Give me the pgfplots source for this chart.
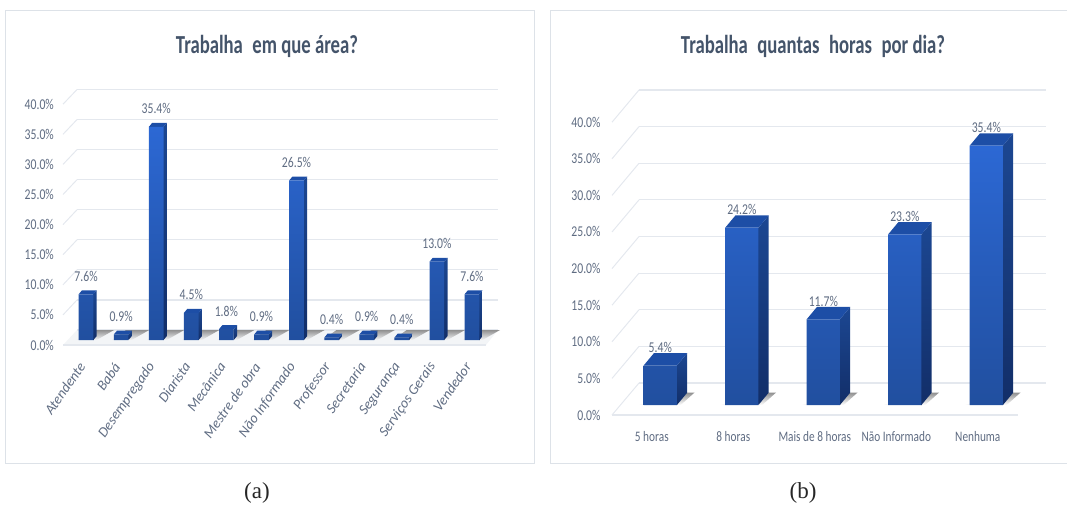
\documentclass[border=0pt]{standalone}
\usepackage{fontspec}
\usepackage{pgfplots}
\pgfplotsset{compat=1.18}
\setmainfont{Carlito}
\newfontfamily\narrowf[FakeStretch=0.78]{Carlito}
\newfontfamily\titlef[FakeStretch=0.72]{Carlito}
\newfontfamily\capf{Liberation Serif}
\definecolor{gridc}{HTML}{E4E8EE}
\definecolor{framec}{HTML}{DDE2E8}
\definecolor{txt}{HTML}{5F6C82}
\definecolor{titlec}{HTML}{44546A}
\definecolor{ftop}{HTML}{2C68D4}
\definecolor{fbot}{HTML}{214F9F}
\definecolor{stop}{HTML}{1C4792}
\definecolor{sbot}{HTML}{122E68}
\definecolor{ttop}{HTML}{1D4EA6}
\definecolor{shd}{HTML}{909090}
% 3D parts of a bar: #1 position, #2 value, #3 half width, #4 depth x, #5 depth y
\newcommand\tdbar[5]{%
  \pgfmathsetmacro\xl{#1-#3}\pgfmathsetmacro\xr{#1+#3}%
  \pgfmathsetmacro\xbl{#1-#3+#4}\pgfmathsetmacro\xbr{#1+#3+#4}%
  \pgfmathsetmacro\ytop{#2+#5}%
  \edef\temp{\noexpand\addplot[draw=none,shade,top color=stop,bottom color=sbot] coordinates {(\xr,0) (\xbr,#5) (\xbr,\ytop) (\xr,#2)} --cycle;
  \noexpand\addplot[draw=none,fill=ttop] coordinates {(\xl,#2) (\xr,#2) (\xbr,\ytop) (\xbl,\ytop)} --cycle;}\temp}
\newcommand\shadA[1]{%
  \pgfmathsetmacro\xl{#1-.26}\pgfmathsetmacro\xr{#1+.30}%
  \pgfmathsetmacro\xbl{#1+.14}\pgfmathsetmacro\xbr{#1+.80}%
  \edef\temp{\noexpand\addplot[draw=none,shade,top color=shd,bottom color=gridc!40] coordinates {(\xl,0) (\xr,0) (\xbr,1.66) (\xbl,1.66)} --cycle;}\temp}
\newcommand\shadB[1]{%
  \pgfmathsetmacro\xa{#1-.26}\pgfmathsetmacro\xb{#1+.25}%
  \pgfmathsetmacro\xc{#1+.42}\pgfmathsetmacro\xd{#1+.30}%
  \edef\temp{\noexpand\addplot[draw=none,shade,top color=shd,bottom color=white] coordinates {(\xa,0) (\xb,0) (\xc,1.7) (\xd,1.7)} --cycle;}\temp}
\pgfplotsset{
  wall/.style={scale only axis,anchor=south west,ymin=0,ymax=40,ytick={0,5,...,40},xtick=\empty,
    ymajorgrids,grid style={gridc,line width=1.2pt},axis line style={draw=none},major tick length=0pt,
    yticklabel={\pgfmathprintnumber[fixed,fixed zerofill,precision=1,assume math mode=true]{\tick}\%},
    clip=false},
  bars/.style={scale only axis,anchor=south west,ymin=0,ymax=40,ytick=\empty,
    axis line style={draw=none},major tick length=0pt,clip=false},
  front/.style={ybar,draw=none,shade,top color=ftop,bottom color=fbot,
    nodes near coords={\pgfmathprintnumber[fixed,fixed zerofill,precision=1,assume math mode=true]{\pgfplotspointmeta}\%},
    every node near coord/.append style={anchor=center,yshift=18pt,text=txt,inner sep=0pt,font=\narrowf\fontsize{15}{17}\selectfont}},
}
\begin{document}
\begin{tikzpicture}[x=1pt,y=1pt]
\path[use as bounding box] (0,0) rectangle (1067,507);
% frames
\draw[framec,line width=.9pt] (5,44) rectangle (534,497);
\draw[framec,line width=.9pt] (1067,497) -- (550.5,497) -- (550.5,44) -- (1067,44);
% titles and captions
\node[text=titlec,inner sep=0pt] at (267,461) {\titlef\bfseries\fontsize{26}{28}\selectfont Trabalha\hspace{.2em} em que área?};
\node[text=titlec,inner sep=0pt] at (813,461) {\titlef\bfseries\fontsize{26}{28}\selectfont Trabalha\hspace{.2em} quantas\hspace{.2em} horas\hspace{.2em} por dia?};
\node[text=black!85,inner sep=0pt] at (257,14) {\capf\fontsize{23}{25}\selectfont (a)};
\node[text=black!85,inner sep=0pt] at (803,14) {\capf\fontsize{23}{25}\selectfont (b)};
% panel a: floor, wall diagonals
\fill[gridc!45] (63,162) -- (77,177) -- (498,177) -- (486,162) -- cycle;
\draw[gridc,line width=1.2pt] (63,162) -- (486,162);
\foreach \v in {1,...,8} \draw[gridc,line width=1pt] (63,{162+30.1*\v}) -- (77,{177+30.06*\v});
% panel b: wall diagonals, front line
\draw[gridc,line width=1.2pt] (612,92) -- (1018,92);
\foreach \v in {0,...,8} \draw[gridc,line width=1pt] (612,{92+36.6*\v}) -- (639,{124+36.625*\v});

\begin{axis}[wall,at={(77pt,177pt)},width=421pt,height=240.5pt,xmin=0,xmax=1,
  yticklabel style={anchor=east,inner sep=0pt,xshift=-23pt,yshift=-15pt,text=txt,font=\narrowf\fontsize{15}{17}\selectfont}]
\addplot[draw=none] coordinates {(0,0)(1,40)};
\end{axis}
\begin{axis}[bars,at={(68.5pt,167pt)},width=421pt,height=240.8pt,xmin=-0.5,xmax=11.5,xtick={0,1,...,11},
  xticklabels={Atendente,Babá,Desempregado,Diarista,Mecânica,Mestre de obra,Não Informado,Professor,Secretaria,Segurança,Serviços Gerais,Vendedor},
  xticklabel style={xshift=-4pt,yshift=-24pt,rotate=55,anchor=east,inner sep=0pt,text=txt,font=\itshape\fontsize{14.3}{17}\selectfont}]
\shadA{0}\shadA{1}\shadA{2}\shadA{3}\shadA{4}\shadA{5}\shadA{6}\shadA{7}\shadA{8}\shadA{9}\shadA{10}\shadA{11}
\tdbar{0}{7.6}{.21}{.094}{.66}\tdbar{1}{0.9}{.21}{.094}{.66}\tdbar{2}{35.4}{.21}{.094}{.66}\tdbar{3}{4.5}{.21}{.094}{.66}
\tdbar{4}{1.8}{.21}{.094}{.66}\tdbar{5}{0.9}{.21}{.094}{.66}\tdbar{6}{26.5}{.21}{.094}{.66}\tdbar{7}{0.4}{.21}{.094}{.66}
\tdbar{8}{0.9}{.21}{.094}{.66}\tdbar{9}{0.4}{.21}{.094}{.66}\tdbar{10}{13.0}{.21}{.094}{.66}\tdbar{11}{7.6}{.21}{.094}{.66}
\addplot[front,bar width=14.7pt] coordinates {(0,7.6)(1,0.9)(2,35.4)(3,4.5)(4,1.8)(5,0.9)(6,26.5)(7,0.4)(8,0.9)(9,0.4)(10,13.0)(11,7.6)};
\end{axis}

\begin{axis}[wall,at={(638.7pt,124pt)},width=407.3pt,height=293pt,xmin=0,xmax=1,
  yticklabel style={anchor=east,inner sep=0pt,xshift=-38pt,yshift=-32pt,text=txt,font=\narrowf\fontsize{15}{17}\selectfont}]
\addplot[draw=none] coordinates {(0,0)(1,40)};
\end{axis}
\begin{axis}[bars,at={(619.55pt,102pt)},width=407.5pt,height=293pt,xmin=-0.5,xmax=4.5,xtick={0,1,...,4},
  xticklabels={5 horas,8 horas,Mais de 8 horas,Não Informado,Nenhuma},
  xticklabel style={anchor=center,inner sep=0pt,xshift=-8.5pt,yshift=-32pt,text=txt,font=\narrowf\fontsize{14.5}{16}\selectfont}]
\shadB{0}\shadB{1}\shadB{2}\shadB{3}\shadB{4}
\tdbar{0}{5.4}{.204}{.126}{1.68}\tdbar{1}{24.2}{.204}{.126}{1.68}\tdbar{2}{11.7}{.204}{.126}{1.68}\tdbar{3}{23.3}{.204}{.126}{1.68}\tdbar{4}{35.4}{.204}{.126}{1.68}
\addplot[front,bar width=33.3pt] coordinates {(0,5.4)(1,24.2)(2,11.7)(3,23.3)(4,35.4)};
\end{axis}
\end{tikzpicture}
\end{document}
